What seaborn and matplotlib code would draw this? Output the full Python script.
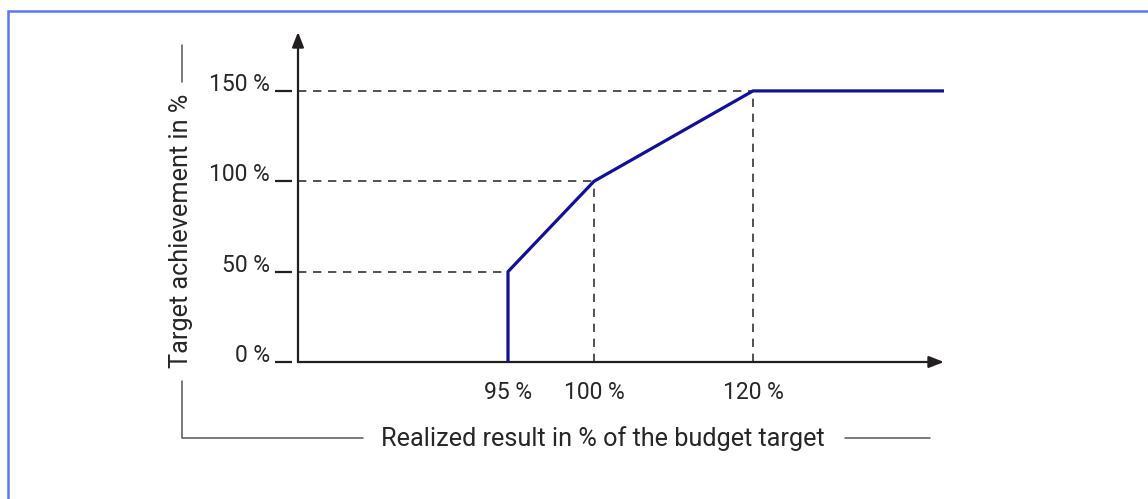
import numpy as np
import pandas as pd
import matplotlib
matplotlib.use("Agg")
import matplotlib.pyplot as plt
import seaborn as sns
from matplotlib.lines import Line2D
from matplotlib.patches import Rectangle

# payout curve: realized result (% of budget) vs target achievement (%)
result_pct = [95, 95, 100, 120, 140]
achievement_pct = [0, 50, 100, 150, 150]

# reference points with dashed guides
guide_x = [95, 100, 120]
guide_y = [50, 100, 150]

y_ticks = [0, 50, 100, 150]
y_labels = ["0 %", "50 %", "100 %", "150 %"]
x_ticks = [95, 100, 120]
x_labels = ["95 %", "100 %", "120 %"]

x_title = "Realized result in % of the budget target"
y_title = "Target achievement in %"

# schematic (non-linear) x axis: value knots -> display units
scale_vals = [80, 95, 100, 120, 140]
scale_pos = [0, 210, 296, 455, 646]

def fwd(v):
    return np.interp(v, scale_vals, scale_pos)

def inv(u):
    return np.interp(u, scale_pos, scale_vals)

sns.set_style("white")
plt.rcParams["font.family"] = ["Roboto", "DejaVu Sans"]

W, H = 1148, 499
fig = plt.figure(figsize=(W / 100, H / 100), dpi=100)

def fx(x):
    return x / W

def fy(y):
    return 1 - y / H

ax = fig.add_axes([fx(298), fy(362), (944 - 298) / W, (362 - 32) / H])
ax.set_xscale("function", functions=(fwd, inv))
ax.set_xlim(80, 140)
ax.set_ylim(0, 182.6)

ink = "#231f20"
txt = "#262626"
dash = (0, (5, 4))

# dashed guides
for gx, gy in zip(guide_x, guide_y):
    ax.plot([80, gx], [gy, gy], color="#333333", lw=1.2, linestyle=dash, zorder=2)
    if gx != 95:
        ax.plot([gx, gx], [0, gy], color="#333333", lw=1.2, linestyle=dash, zorder=2)

df = pd.DataFrame({"result": result_pct, "achievement": achievement_pct})
sns.lineplot(data=df, x="result", y="achievement", estimator=None, sort=False,
             color="#10109a", lw=2.3, ax=ax, zorder=3)

# axes as arrows
for s in ax.spines.values():
    s.set_visible(False)
ax.spines["left"].set_position(("outward", 4.5))
arrow = dict(arrowstyle="-|>,head_length=0.9,head_width=0.35", color=ink, lw=1.6,
             shrinkA=0, shrinkB=0)
ax.annotate("", xy=(0, 1), xytext=(0, 0), xycoords="axes fraction", arrowprops=arrow)
ax.annotate("", xy=(1, 0), xytext=(0, 0), xycoords="axes fraction", arrowprops=arrow)

ax.set_yticks(y_ticks)
ax.set_yticklabels(y_labels, va="baseline")
ax.set_xticks(x_ticks)
ax.set_xticklabels(x_labels)
ax.xaxis.set_minor_locator(matplotlib.ticker.NullLocator())
ax.tick_params(axis="y", left=True, length=12.5, width=1.6, color=ink, pad=3,
               labelsize=16.5, labelcolor=txt, direction="out")
ax.tick_params(axis="x", bottom=True, length=0, pad=14, labelsize=16.5,
               labelcolor=txt)
ax.set_xlabel("")
ax.set_ylabel("")
ax.grid(False)

# axis titles with bracket lines
fig.text(fx(603), fy(439), x_title, ha="center", va="center", fontsize=18.2,
         color=txt)
fig.text(fx(181), fy(231), y_title, ha="center", va="center", rotation=90,
         fontsize=18.2, color=txt)
gray = "#555555"
for xs, ys in [([182, 182], [45, 82]),
               ([182, 182, 363], [381, 438, 438]),
               ([845, 930], [438, 438])]:
    fig.add_artist(Line2D([fx(v) for v in xs], [fy(v) for v in ys], color=gray, lw=1.1))

# outer frame
fig.patches.append(Rectangle((fx(8), fy(600)), fx(1300), fy(11) - fy(600),
                             transform=fig.transFigure, fill=False,
                             edgecolor="#5a78f0", lw=1.8, figure=fig))

fig.savefig("out.png", dpi=100)
